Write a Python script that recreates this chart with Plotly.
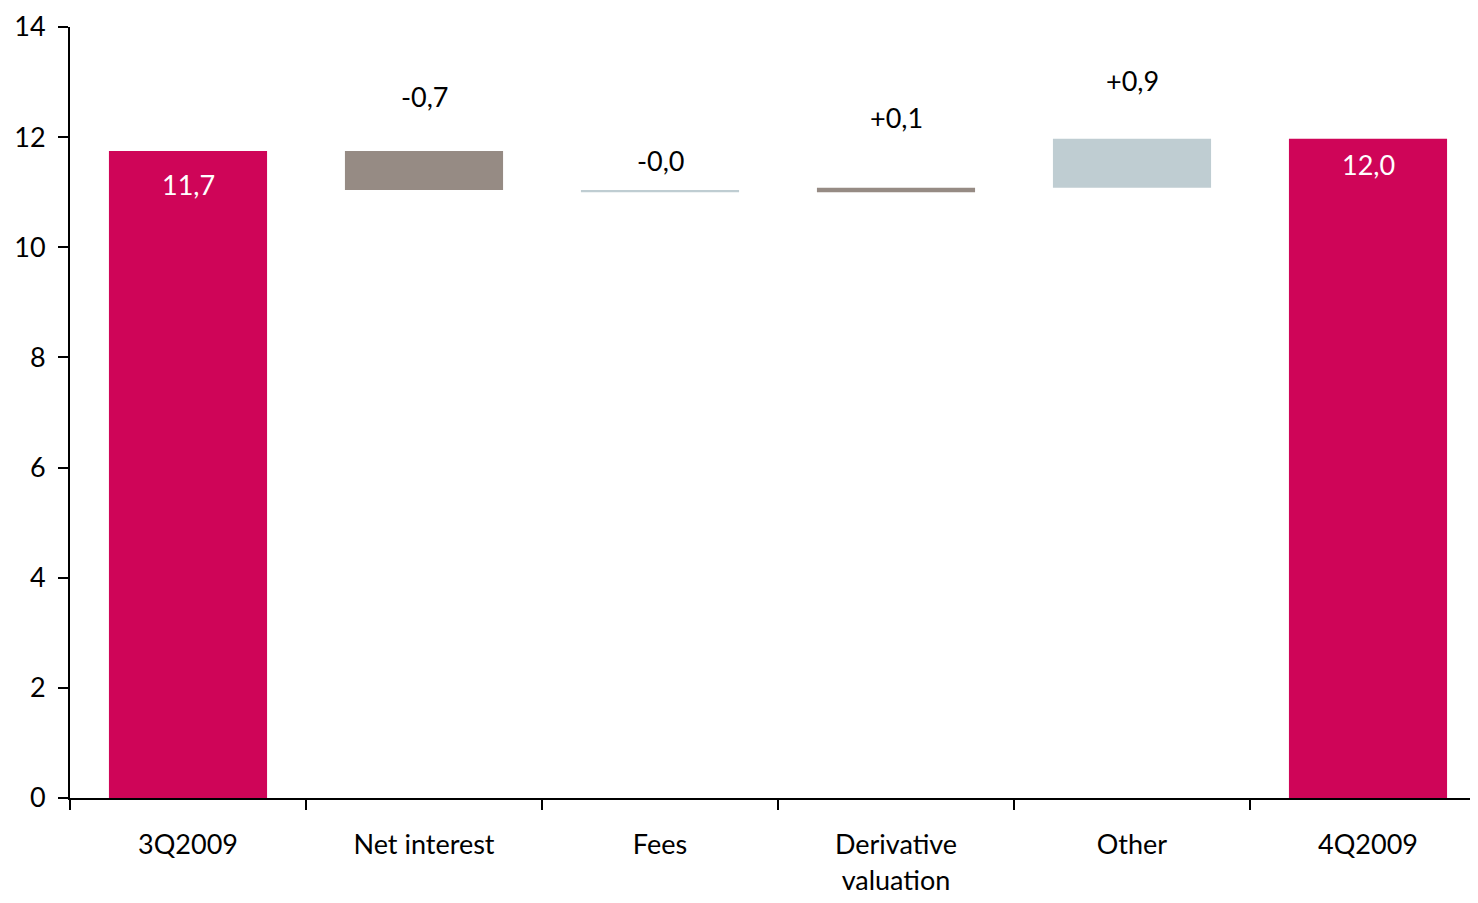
import plotly.graph_objects as go

categories = ["3Q2009", "Net interest", "Fees", "Derivative<br>valuation", "Other", "4Q2009"]
start_total = 11.75
changes = [-0.71, -0.04, 0.08, 0.89]
end_total = 11.97
change_labels = ["-0,7", "-0,0", "+0,1", "+0,9"]
total_labels = ["11,7", "12,0"]

# styling
C_TOTAL = "#CF0558"
C_BROWN = "#968B84"
C_BLUE = "#BFCDD2"
change_colors = [C_BROWN, C_BLUE, C_BROWN, C_BLUE]
label_shift_px = [54, 30, 70, 58]   # label centre above bar top
FONT = "Lato"
FS = 27

# compute waterfall bases
bases = []
heights = []
level = start_total
for c in changes:
    new = level + c
    bases.append(min(level, new))
    heights.append(abs(c))
    level = new

fig = go.Figure()
fig.add_trace(go.Bar(x=[categories[0], categories[-1]], y=[start_total, end_total],
                     marker=dict(color=C_TOTAL, line=dict(width=0)), width=0.67,
                     hoverinfo="skip"))
fig.add_trace(go.Bar(x=categories[1:-1], y=heights, base=bases,
                     marker=dict(color=change_colors, line=dict(width=0)), width=0.67,
                     hoverinfo="skip"))

for i, c in enumerate(categories[1:-1]):
    top = bases[i] + heights[i]
    fig.add_annotation(x=c, y=top, text=change_labels[i], showarrow=False,
                       yshift=label_shift_px[i], font=dict(family=FONT, size=FS, color="black"))
for c, v, t, s in zip([categories[0], categories[-1]], [start_total, end_total], total_labels, [-34, -26]):
    fig.add_annotation(x=c, y=v, text=t, showarrow=False, yshift=s,
                       font=dict(family=FONT, size=FS, color="white"))

fig.update_layout(
    width=1478, height=903,
    margin=dict(l=62, r=0, t=19, b=113),
    paper_bgcolor="white", plot_bgcolor="white",
    showlegend=False, barmode="overlay",
    font=dict(family=FONT, size=FS, color="black"),
)
fig.update_xaxes(type="category", categoryorder="array", categoryarray=categories,
                 range=[-0.5, 5.5], tickson="boundaries", automargin=False,
                 showline=True, linecolor="black", linewidth=2,
                 ticks="outside", ticklen=10, tickwidth=2, tickcolor="black",
                 showgrid=False, zeroline=False, ticklabelstandoff=22,
                 tickfont=dict(family=FONT, size=FS, color="black"))
fig.update_yaxes(range=[0, 14], tickvals=[0, 2, 4, 6, 8, 10, 12, 14],
                 showline=True, linecolor="black", linewidth=2, automargin=False,
                 ticks="outside", ticklen=10, tickwidth=2, tickcolor="black",
                 showgrid=False, zeroline=False, ticklabelstandoff=7,
                 ticklabeloverflow="allow",
                 tickfont=dict(family=FONT, size=FS, color="black"))

fig.write_html("out.html")
